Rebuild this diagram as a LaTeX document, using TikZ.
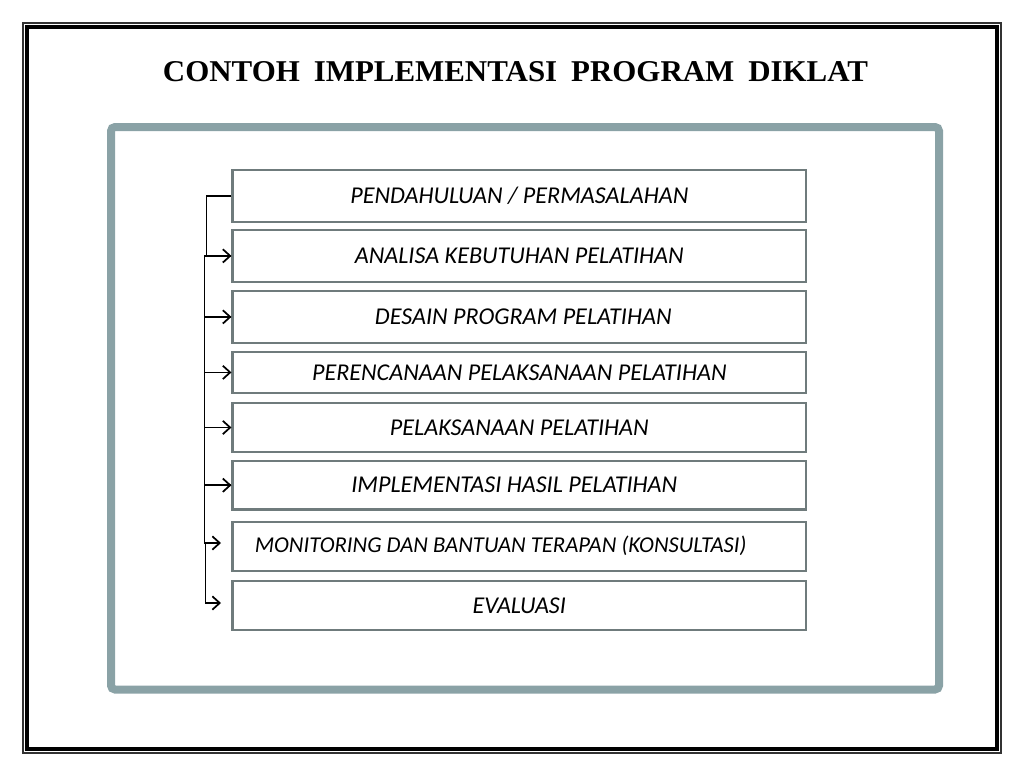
\documentclass[tikz,border=0pt]{standalone}
\usepackage{graphicx}
\usepackage{fontspec}
\setmainfont{Carlito}
\newfontfamily\titlefont{Liberation Serif Bold}
\usetikzlibrary{arrows.meta}
\definecolor{framegray}{HTML}{8AA2A6}
\definecolor{boxgray}{HTML}{6F7B7C}
\begin{document}
\begin{tikzpicture}[x=0.75pt,y=-0.75pt,
  stepbox/.style={draw=boxgray, line width=1.7pt, minimum width=430pt, inner sep=0pt,
    font=\fontsize{18.1}{21}\selectfont\itshape},
  conn/.style={draw=black, line width=1.3pt, -{Straight Barb[length=5.5pt,width=10pt,line width=1.3pt]}},
  outerline/.style={draw=black!80, line width=1.1pt},
  innerline/.style={draw=black, line width=2.8pt},
  grayframe/.style={draw=framegray, line width=6pt, rounded corners=3pt}]
\useasboundingbox (0,0) rectangle (1024,768);
\draw[outerline] (23,23) rectangle (1001,753);
\draw[innerline] (27.3,27) rectangle (996.7,749.2);
\draw[grayframe] (111,127) rectangle (939,689.5);

\node[inner sep=0pt] (title) at (515.5,71.7) {\resizebox{528.75pt}{15pt}{\titlefont CONTOH\hspace{0.45em}IMPLEMENTASI\hspace{0.45em}PROGRAM\hspace{0.45em}DIKLAT}};

\node[stepbox, minimum height=38.8pt] (b1) at (519.25,195.9) {PENDAHULUAN / PERMASALAHAN};
\node[stepbox, minimum height=38.8pt] (b2) at (519.25,255.9) {ANALISA KEBUTUHAN PELATIHAN};
\node[stepbox, minimum height=38.8pt] (b3) at (519.25,316.9) {\hspace*{6pt}DESAIN PROGRAM PELATIHAN};
\node[stepbox, minimum height=30.5pt] (b4) at (519.25,372.4) {PERENCANAAN PELAKSANAAN PELATIHAN};
\node[stepbox, minimum height=36.3pt] (b5) at (519.25,427.5) {PELAKSANAAN PELATIHAN};
\node[stepbox, minimum height=36.3pt] (b6) at (519.25,485.2) {\hspace*{-7.5pt}IMPLEMENTASI HASIL PELATIHAN};
\node[stepbox, minimum height=36.8pt, font=\fontsize{17}{20}\selectfont\itshape] (b7) at (519.25,546.2) {\hspace*{-28pt}MONITORING DAN BANTUAN TERAPAN (KONSULTASI)};
\node[stepbox, minimum height=36.8pt] (b8) at (519.25,605.5) {EVALUASI};

\coordinate (j7) at (205.5,543);
\coordinate (e7) at (221,543);
\coordinate (e8) at (221,603);

\draw[conn] (b1.west) -- ++(-25,0) |- (b2.west);
\draw[conn] (b2.west) -- ++(-27,0) |- (b3.west);
\draw[conn] (b3.west) -- ++(-27,0) |- (b4.west);
\draw[conn] (b4.west) -- ++(-27,0) |- (b5.west);
\draw[conn] (b5.west) -- ++(-27,0) |- (b6.west);
\draw[conn] (b6.west) -- ++(-27,0) |- (e7);
\draw[conn] (j7) |- (e8);
\end{tikzpicture}
\end{document}
